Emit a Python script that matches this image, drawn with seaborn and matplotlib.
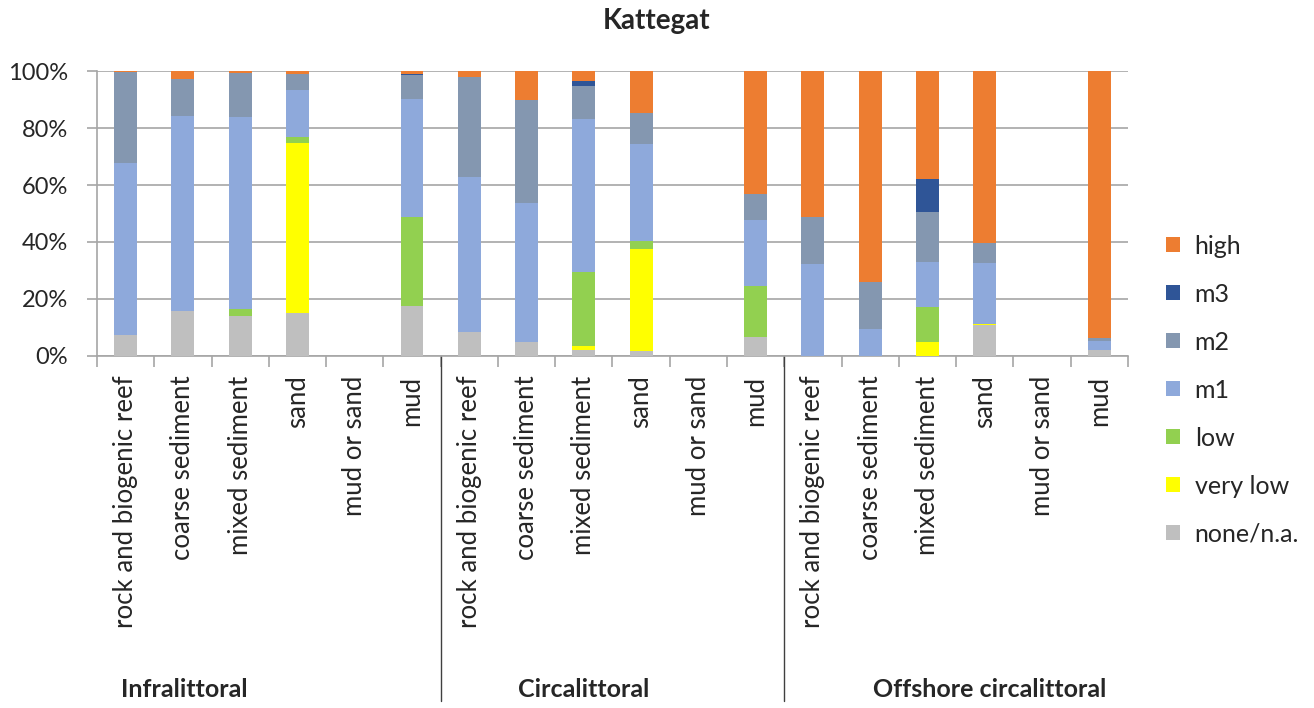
import numpy as np
import pandas as pd
import seaborn as sns
import matplotlib.pyplot as plt
from matplotlib.patches import Patch

sns.set_style("white")
plt.rcParams["font.family"] = ["Lato", "DejaVu Sans"]

# categories
habitats = ["rock and biogenic reef", "coarse sediment", "mixed sediment",
            "sand", "mud or sand", "mud"]
zones = ["Infralittoral", "Circalittoral", "Offshore circalittoral"]

# series values (% of area), 18 bars = 3 zones x 6 habitats
none_na  = [7.3, 15.7, 14.0, 15.2, 0, 17.5,  8.4, 4.9, 2.1, 1.6, 0, 6.5,   0, 0, 0, 10.8, 0, 2.2]
very_low = [0, 0, 0, 59.7, 0, 0,            0, 0, 1.4, 36.1, 0, 0,       0, 0, 4.9, 0.4, 0, 0]
low      = [0, 0, 2.4, 1.8, 0, 31.2,        0, 0, 26.0, 2.7, 0, 18.2,    0, 0, 12.3, 0, 0, 0]
m1       = [60.5, 68.6, 67.5, 16.6, 0, 41.5, 54.5, 48.9, 53.5, 34.0, 0, 22.9, 32.3, 9.4, 15.8, 21.3, 0, 3.1]
m2       = [31.8, 12.9, 15.3, 5.8, 0, 8.4,  34.9, 36.0, 11.9, 11.0, 0, 9.4,  16.4, 16.4, 17.6, 7.1, 0, 1.1]
m3       = [0, 0, 0, 0, 0, 0.4,             0, 0, 1.6, 0, 0, 0,          0, 0, 11.6, 0, 0, 0]
high     = [0.4, 2.8, 0.8, 0.9, 0, 1.0,     2.2, 10.2, 3.5, 14.6, 0, 43.0, 51.3, 74.2, 37.8, 60.4, 0, 93.6]

series = ["none/n.a.", "very low", "low", "m1", "m2", "m3", "high"]
colors = {"none/n.a.": "#BFBFBF", "very low": "#FFFF00", "low": "#92D050",
          "m1": "#8EA9DB", "m2": "#8497B0", "m3": "#2F5597", "high": "#ED7D31"}

df = pd.DataFrame({"none/n.a.": none_na, "very low": very_low, "low": low,
                   "m1": m1, "m2": m2, "m3": m3, "high": high})
df["pos"] = np.arange(len(df))
labels = habitats * len(zones)

# cumulative sums so that bars can be overlaid from the top layer down
cum = df[series].cumsum(axis=1)

fig = plt.figure(figsize=(13.14, 7.08), dpi=100)
ax = fig.add_axes([0.0738, 0.4972, 0.7846, 0.4025])

for s in reversed(series):
    sns.barplot(x=df["pos"], y=cum[s], color=colors[s], width=0.4,
                saturation=1, linewidth=0, ax=ax, zorder=3)

grey = "#A6A6A6"
ax.set_ylim(0, 100)
ax.set_xlim(-0.5, 17.5)
ax.set_yticks(np.arange(0, 101, 20))
ax.set_yticklabels([f"{v}%" for v in range(0, 101, 20)], fontsize=17)
ax.yaxis.grid(True, color=grey, linewidth=1.2, zorder=0)
ax.set_xticks(range(18))
ax.set_xticklabels(labels, rotation=90, fontsize=18.5)
ax.set_xticks(np.arange(-0.5, 18, 1), minor=True)
ax.tick_params(axis="x", which="major", length=0, pad=14)
ax.tick_params(axis="x", which="minor", length=8, color=grey, width=1.2, bottom=True)
ax.tick_params(axis="y", length=7, color=grey, width=1.2, left=True, pad=14)
ax.set_xlabel("")
ax.set_ylabel("")
for sp in ["top", "right"]:
    ax.spines[sp].set_visible(False)
for sp in ["left", "bottom"]:
    ax.spines[sp].set_color(grey)
    ax.spines[sp].set_linewidth(1.2)

# group separators and zone labels
for xb in [5.5, 11.5]:
    ax.axvline(xb, ymin=-1.21, ymax=0, color="#404040", linewidth=1, clip_on=False)
for xz, z in zip([1.02, 8.0, 15.09], zones):
    ax.text(xz, -1.17, z, transform=ax.get_xaxis_transform(), ha="center",
            va="center", fontsize=18, fontweight="bold")

fig.text(0.5, 0.97, "Kattegat", ha="center", va="center", fontsize=20,
         fontweight="bold")

handles = [Patch(facecolor=colors[s], edgecolor="none") for s in reversed(series)]
leg = ax.legend(handles, list(reversed(series)), loc="upper left",
                bbox_to_anchor=(1.015, 0.505), frameon=False,
                handlelength=0.55, handleheight=0.55, handletextpad=0.6,
                labelspacing=1.0, prop={"family": "Lato", "size": 18})

fig.savefig("out.png", dpi=100)
